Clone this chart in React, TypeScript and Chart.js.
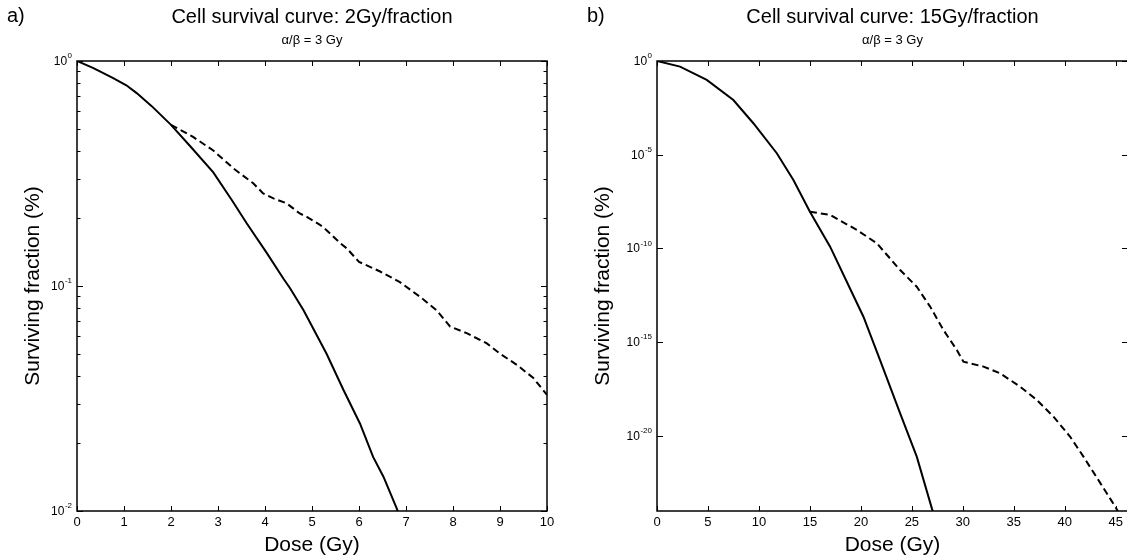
import React, { useEffect, useRef } from "react";
import { Chart, registerables } from "chart.js";

Chart.register(...registerables);

// ---------- Panel a) 2 Gy/fraction ----------
const solidDoseA = [0, 0.35, 0.77, 1.05, 1.27, 1.59, 2.0, 2.4, 2.9, 3.3, 3.61, 4.04, 4.39, 4.53, 4.82, 5.31, 5.67, 6.02, 6.3, 6.52, 6.8, 6.86];
const solidSurvA = [1.0, 0.93, 0.84, 0.78, 0.72, 0.63, 0.52, 0.42, 0.32, 0.24, 0.19, 0.14, 0.108, 0.098, 0.078, 0.05, 0.0345, 0.0245, 0.0174, 0.0142, 0.0103, 0.0095];
const dashDoseA = [2.0, 2.47, 2.9, 3.33, 3.75, 3.96, 4.18, 4.46, 4.74, 4.89, 5.17, 5.31, 5.6, 5.74, 6.0, 6.45, 6.87, 7.3, 7.65, 7.94, 8.29, 8.72, 9.0, 9.36, 9.71, 10.0];
const dashSurvA = [0.52, 0.46, 0.4, 0.333, 0.286, 0.258, 0.245, 0.233, 0.21, 0.203, 0.187, 0.177, 0.155, 0.147, 0.128, 0.116, 0.104, 0.0895, 0.078, 0.066, 0.0617, 0.0556, 0.05, 0.0446, 0.039, 0.0328];
const xTicksA = [0, 1, 2, 3, 4, 5, 6, 7, 8, 9, 10];
const yMajorA = [1, 0.1, 0.01];
const yMinorA = [0.9, 0.8, 0.7, 0.6, 0.5, 0.4, 0.3, 0.2, 0.09, 0.08, 0.07, 0.06, 0.05, 0.04, 0.03, 0.02];

// ---------- Panel b) 15 Gy/fraction (values stored as log10 of surviving fraction) ----------
const solidDoseB = [0, 2.26, 4.88, 7.49, 9.45, 11.75, 13.38, 15.0, 16.98, 18.85, 20.25, 21.88, 23.85, 25.48, 26.96, 27.1];
const solidLogB = [0, -0.3, -1.01, -2.08, -3.32, -4.92, -6.35, -8.04, -9.9, -12.04, -13.64, -15.95, -18.79, -21.1, -23.86, -24.1];
const dashDoseB = [15.0, 16.98, 19.6, 21.56, 23.85, 25.48, 26.79, 28.1, 29.41, 30.06, 32.03, 33.66, 35.62, 37.26, 38.89, 40.53, 41.83, 43.47, 44.95, 45.2];
const dashLogB = [-8.04, -8.21, -9.01, -9.72, -11.15, -12.04, -13.1, -14.35, -15.41, -16.04, -16.3, -16.66, -17.37, -18.08, -18.97, -20.04, -21.1, -22.5, -23.77, -24.0];
const xTicksB = [0, 5, 10, 15, 20, 25, 30, 35, 40, 45];
const yMajorB = [1, 1e-5, 1e-10, 1e-15, 1e-20];
const yMinorB: number[] = [];

const FONT = "'Liberation Sans', Arial, Helvetica, sans-serif";

const frameTicks = {
  id: "frameTicks",
  afterDraw(chart: any, _args: any, o: any) {
    const { ctx, chartArea } = chart;
    const { left, right, top, bottom } = chartArea;
    const xs = chart.scales.x;
    const ys = chart.scales.y;
    ctx.save();
    ctx.strokeStyle = "#000";
    ctx.lineWidth = 1.5;
    ctx.strokeRect(left, top, right - left, bottom - top);
    ctx.lineWidth = 1;
    ctx.beginPath();
    for (const v of o.xTicks) {
      const p = Math.round(xs.getPixelForValue(v)) + 0.5;
      ctx.moveTo(p, bottom); ctx.lineTo(p, bottom - 5);
      ctx.moveTo(p, top); ctx.lineTo(p, top + 5);
    }
    for (const v of o.yMajor) {
      const p = Math.round(ys.getPixelForValue(v)) + 0.5;
      ctx.moveTo(left, p); ctx.lineTo(left + 6, p);
      ctx.moveTo(right, p); ctx.lineTo(right - 6, p);
    }
    for (const v of o.yMinor) {
      const p = Math.round(ys.getPixelForValue(v)) + 0.5;
      ctx.moveTo(left, p); ctx.lineTo(left + 3.5, p);
      ctx.moveTo(right, p); ctx.lineTo(right - 3.5, p);
    }
    ctx.stroke();

    // power-of-ten tick labels: "10" with a raised exponent
    ctx.fillStyle = "#000";
    for (const v of o.yMajor) {
      const y = ys.getPixelForValue(v);
      const exp = String(Math.round(Math.log10(v)));
      ctx.font = "8px " + FONT;
      const ew = ctx.measureText(exp).width;
      const xr = left - 5;
      ctx.textAlign = "left";
      ctx.textBaseline = "alphabetic";
      ctx.fillText(exp, xr - ew, y - 3);
      ctx.font = "12px " + FONT;
      ctx.textAlign = "right";
      ctx.textBaseline = "middle";
      ctx.fillText("10", xr - ew - 0.5, y + 0.5);
    }

    ctx.font = "20px " + FONT;
    ctx.textAlign = "left";
    ctx.textBaseline = "middle";
    ctx.fillText(o.tag, o.tagX, o.tagY);
    ctx.restore();
  },
};

type PanelProps = {
  title: string;
  tag: string;
  tagX: number;
  solid: { x: number; y: number }[];
  dashed: { x: number; y: number }[];
  xMax: number;
  yMin: number;
  xTicks: number[];
  yMajor: number[];
  yMinor: number[];
  yAxisWidth: number;
  yTitlePad: number;
  padRight: number;
  width: number;
  left: number;
};

function Panel(p: PanelProps) {
  const ref = useRef<HTMLCanvasElement>(null);
  useEffect(() => {
    if (!ref.current) return;
    const chart = new Chart(ref.current, {
      type: "line",
      data: {
        datasets: [
          { data: p.solid, borderColor: "#000", borderWidth: 2, pointRadius: 0, tension: 0, fill: false },
          { data: p.dashed, borderColor: "#000", borderWidth: 2, borderDash: [7, 4], pointRadius: 0, tension: 0, fill: false },
        ],
      },
      options: {
        animation: false,
        responsive: false,
        events: [],
        layout: { padding: { left: 0, right: p.padRight, top: 0, bottom: 0 } },
        plugins: {
          legend: { display: false },
          tooltip: { enabled: false },
          title: {
            display: true,
            text: p.title,
            color: "#000",
            fullSize: false,
            font: { family: FONT, size: 20, weight: "normal", lineHeight: 1.2 },
            padding: { top: 5, bottom: 1 },
          },
          subtitle: {
            display: true,
            text: "\u03B1/\u03B2 = 3 Gy",
            color: "#000",
            fullSize: false,
            font: { family: FONT, size: 13, weight: "normal", lineHeight: 1.2 },
            padding: { top: 2.2, bottom: 13.2 },
          },
          frameTicks: { xTicks: p.xTicks, yMajor: p.yMajor, yMinor: p.yMinor, tag: p.tag, tagX: p.tagX, tagY: 16 },
        } as any,
        scales: {
          x: {
            type: "linear",
            min: 0,
            max: p.xMax,
            afterBuildTicks: (s: any) => { s.ticks = p.xTicks.map((v) => ({ value: v })); },
            afterFit: (s: any) => { s.height = 45; },
            ticks: {
              color: "#000",
              font: { family: FONT, size: 13 },
              padding: 4,
              maxRotation: 0,
              autoSkip: false,
              callback: (v: any) => String(v),
            },
            grid: { display: false, drawTicks: false },
            border: { display: false },
            title: {
              display: true,
              text: "Dose (Gy)",
              color: "#000",
              font: { family: FONT, size: 21, lineHeight: 1.2 },
              padding: { top: 0, bottom: -2 },
            },
          },
          y: {
            type: "logarithmic",
            min: p.yMin,
            max: 1,
            afterBuildTicks: (s: any) => { s.ticks = p.yMajor.map((v) => ({ value: v })); },
            afterFit: (s: any) => { s.width = p.yAxisWidth; },
            ticks: { display: false },
            grid: { display: false, drawTicks: false },
            border: { display: false },
            title: {
              display: true,
              text: "Surviving fraction (%)",
              color: "#000",
              font: { family: FONT, size: 21, lineHeight: 1.2 },
              padding: { top: p.yTitlePad, bottom: 0 },
            },
          },
        },
      },
      plugins: [frameTicks as any],
    } as any);
    return () => chart.destroy();
  }, []);
  return (
    <canvas
      ref={ref}
      width={p.width}
      height={556}
      style={{ position: "absolute", left: p.left, top: 0, width: p.width, height: 556 }}
    />
  );
}

export default function App() {
  const solidA = solidDoseA.map((x, i) => ({ x, y: solidSurvA[i] }));
  const dashedA = dashDoseA.map((x, i) => ({ x, y: dashSurvA[i] }));
  const solidB = solidDoseB.map((x, i) => ({ x, y: Math.pow(10, solidLogB[i]) }));
  const dashedB = dashDoseB.map((x, i) => ({ x, y: Math.pow(10, dashLogB[i]) }));
  return (
    <div style={{ position: "fixed", left: 0, top: 0, width: 1127, height: 556, overflow: "hidden", background: "#fff" }}>
      <Panel
        title="Cell survival curve: 2Gy/fraction"
        tag="a)"
        tagX={7}
        solid={solidA}
        dashed={dashedA}
        xMax={10}
        yMin={0.01}
        xTicks={xTicksA}
        yMajor={yMajorA}
        yMinor={yMinorA}
        yAxisWidth={77}
        yTitlePad={20.4}
        padRight={13}
        width={560}
        left={0}
      />
      <Panel
        title="Cell survival curve: 15Gy/fraction"
        tag="b)"
        tagX={27}
        solid={solidB}
        dashed={dashedB}
        xMax={46.2}
        yMin={1e-24}
        xTicks={xTicksB}
        yMajor={yMajorB}
        yMinor={yMinorB}
        yAxisWidth={97}
        yTitlePad={30.4}
        padRight={0}
        width={568}
        left={560}
      />
    </div>
  );
}
